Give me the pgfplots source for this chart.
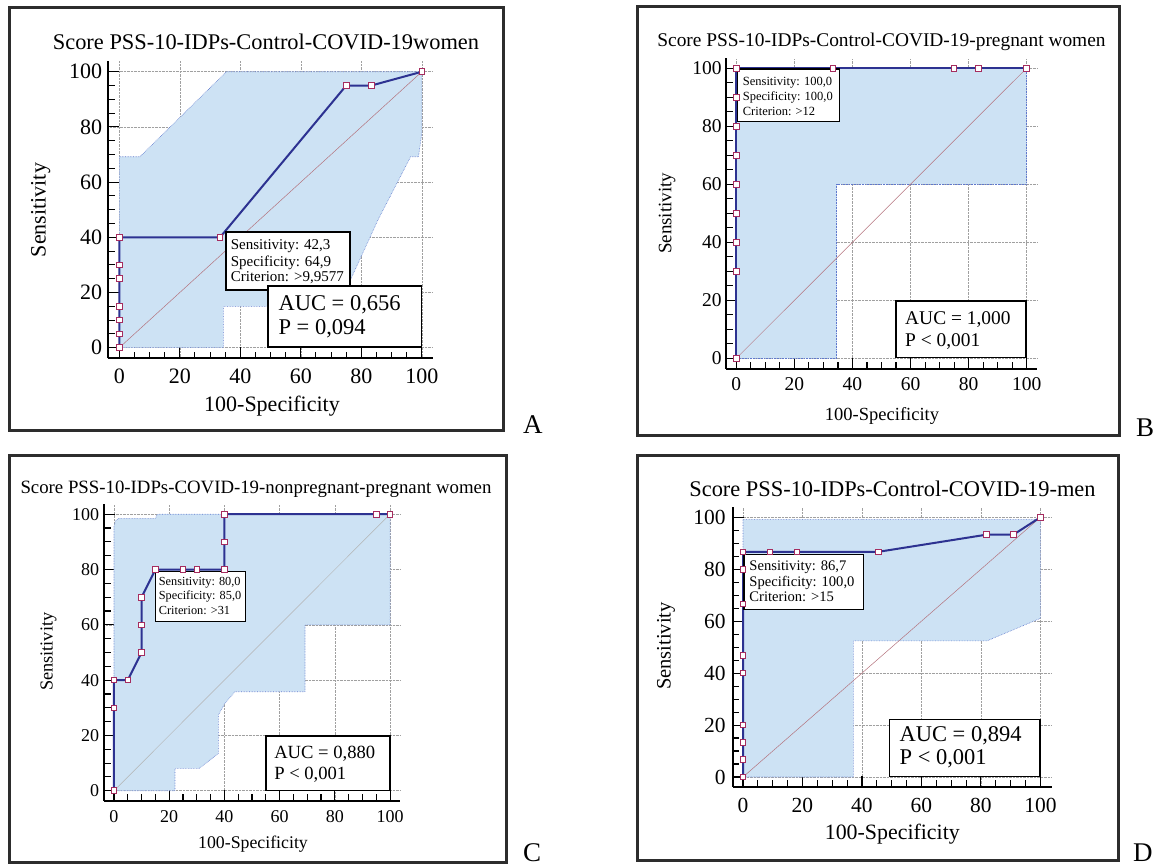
\documentclass[border=0pt]{standalone}
\usepackage{pgfplots}
\pgfplotsset{compat=1.18}
\usepackage{fontspec}
\setmainfont{Liberation Serif}
\newcommand{\fs}[1]{\fontsize{#1}{#1}\selectfont}
\definecolor{cifill}{RGB}{205,226,244}
\definecolor{cidraw}{RGB}{95,120,205}
\definecolor{roc}{RGB}{45,50,145}
\definecolor{markc}{RGB}{165,45,95}
\definecolor{diagc}{RGB}{180,115,125}
\definecolor{gridc}{RGB}{160,160,160}
\definecolor{framec}{RGB}{45,45,45}
\tikzset{boxstyle/.style={line width=1.4pt, fill=white, draw=black}}
\pgfplotsset{rocax/.style={scale only axis, anchor=south west,
  axis x line=bottom, axis y line=left,
  axis line style={-, line width=2pt, black},
  xtick={0,20,...,100}, ytick={0,20,...,100},
  minor x tick num=3, minor y tick num=3,
  tick align=inside, major tick length=11pt, minor tick length=6.5pt,
  tick style={black, line width=1.1pt},
  grid=major, major grid style={gridc, densely dotted, line width=0.6pt},
  /pgf/number format/assume math mode=true, clip=false,
  xticklabel={\pgfmathprintnumber{\tick}},
  yticklabel={\pgfmathprintnumber{\tick}},
  xticklabel style={inner sep=0pt, anchor=north},
  yticklabel style={inner sep=0pt, anchor=east}},
  cistyle/.style={fill=cifill, draw=cidraw, densely dotted, line width=0.6pt},
  diagstyle/.style={diagc, line width=0.5pt},
  rocstyle/.style={roc, line width=2pt, mark=square*, mark size=2.8pt,
  mark options={solid, fill=white, draw=markc, line width=0.9pt}}}
\begin{document}
\begin{tikzpicture}[x=1pt,y=1pt]
\useasboundingbox (0,0) rectangle (1156,866);
% frames
\draw[framec, line width=3pt] (9,435) rectangle (503,858);
\draw[framec, line width=3pt] (637,430) rectangle (1119,859);
\draw[framec, line width=3pt] (9,3) rectangle (506,410);
\draw[framec, line width=3pt] (637,5) rectangle (1118,410);
\node[anchor=base west, inner sep=0pt, font=\fs{27}] at (523,432.7) {A};
\node[anchor=base west, inner sep=0pt, font=\fs{27}] at (1136,429) {B};
\node[anchor=base west, inner sep=0pt, font=\fs{27}] at (523,4) {C};
\node[anchor=base west, inner sep=0pt, font=\fs{27}] at (1133,4) {D};

% ---------------- Panel A
\node[anchor=base, inner sep=0pt, font=\fs{22.4}] at (266,816) {Score PSS-10-IDPs-Control-COVID-19women};
\node[rotate=90, anchor=base, inner sep=0pt, font=\fs{22}] at (45.7,656) {Sensitivity};
\node[anchor=base, inner sep=0pt, font=\fs{22}] at (272,454) {100-Specificity};
\begin{axis}[rocax, at={(108.3pt,507.7pt)}, width=324.7pt, height=297.3pt,
  xmin=-3.64, xmax=103.7, ymin=-3.84, ymax=103.9,
  tick label style={font=\fs{22}},
  xticklabel style={yshift=-10pt}, yticklabel style={xshift=-6pt}]
\addplot[cistyle] coordinates {(0,0) (0,69.2) (6.8,69.2) (35.4,100) (100,100) (100,77.7) (98.9,69.2) (96.3,69.2) (85.5,46.3) (76.8,25.5) (72.2,15) (34.4,15) (34.4,0)} -- cycle;
\addplot[diagstyle] coordinates {(0,0) (100,100)};
\addplot[rocstyle] coordinates {(0,0) (0,5) (0,10) (0,15) (0,25) (0,30) (0,40) (33.3,40) (75,95) (83.3,95) (100,100)};
\draw[boxstyle] (axis cs:35.3,20.9) rectangle (axis cs:76.2,41.9);
\node[anchor=base west, inner sep=0pt, font=\fs{15}] at (axis cs:36.8,35.65) {Sensitivity: 42,3};
\node[anchor=base west, inner sep=0pt, font=\fs{15}] at (axis cs:36.8,29.6) {Specificity: 64,9};
\node[anchor=base west, inner sep=0pt, font=\fs{15}] at (axis cs:36.8,23.9) {Criterion: >9,9577};
\draw[boxstyle] (axis cs:49.2,0.25) rectangle (axis cs:99.8,22.4);
\node[anchor=base west, inner sep=0pt, font=\fs{22.5}] at (axis cs:52.6,13.4) {AUC = 0,656};
\node[anchor=base west, inner sep=0pt, font=\fs{22.5}] at (axis cs:52.6,4.86) {P = 0,094};
\end{axis}

% ---------------- Panel B
\node[anchor=base, inner sep=0pt, font=\fs{19.4}] at (881.5,819.3) {Score PSS-10-IDPs-Control-COVID-19-pregnant women};
\node[rotate=90, anchor=base, inner sep=0pt, font=\fs{19}] at (671.3,652.7) {Sensitivity};
\node[anchor=base, inner sep=0pt, font=\fs{18.5}] at (882,445) {100-Specificity};
\begin{axis}[rocax, at={(726pt,497pt)}, width=311.3pt, height=310.7pt,
  xmin=-3.55, xmax=103.65, ymin=-3.69, ymax=103.4,
  tick label style={font=\fs{19.5}},
  xticklabel style={yshift=-8.5pt}, yticklabel style={xshift=-4.3pt}]
\addplot[cistyle] coordinates {(0,0) (0,100) (100,100) (100,60) (34.6,60) (34.6,0)} -- cycle;
\addplot[diagstyle] coordinates {(0,0) (100,100)};
\addplot[rocstyle] coordinates {(0,0) (0,30) (0,40) (0,50) (0,60) (0,70) (0,80) (0,90) (0,100) (33.3,100) (75,100) (83.3,100) (100,100)};
\draw[boxstyle] (axis cs:0.5,81.6) rectangle (axis cs:35.5,99.7);
\node[anchor=base west, inner sep=0pt, font=\fs{12.5}] at (axis cs:2.2,93.9) {Sensitivity: 100,0};
\node[anchor=base west, inner sep=0pt, font=\fs{12.5}] at (axis cs:2.2,88.7) {Specificity: 100,0};
\node[anchor=base west, inner sep=0pt, font=\fs{12.5}] at (axis cs:2.2,83.6) {Criterion: >12};
\draw[boxstyle] (axis cs:55,0.2) rectangle (axis cs:99.8,19.8);
\node[anchor=base west, inner sep=0pt, font=\fs{19.4}] at (axis cs:58.1,11.7) {AUC = 1,000};
\node[anchor=base west, inner sep=0pt, font=\fs{19.4}] at (axis cs:58.1,4.0) {P < 0,001};
\end{axis}

% ---------------- Panel C
\node[anchor=base, inner sep=0pt, font=\fs{18.8}] at (256,372) {Score PSS-10-IDPs-COVID-19-nonpregnant-pregnant women};
\node[rotate=90, anchor=base, inner sep=0pt, font=\fs{18.3}] at (52.5,214.3) {Sensitivity};
\node[anchor=base, inner sep=0pt, font=\fs{17.8}] at (253,17.7) {100-Specificity};
\begin{axis}[rocax, at={(104.3pt,65.3pt)}, width=295.7pt, height=296.7pt,
  xmin=-3.5, xmax=103.6, ymin=-3.6, ymax=103.7,
  tick label style={font=\fs{18}},
  xticklabel style={yshift=-9.3pt}, yticklabel style={xshift=-5pt}]
\addplot[cistyle] coordinates {(0,0) (0,80) (0,95.6) (0.5,97.5) (1.6,98.5) (15,98.5) (15.5,99.5) (16,100) (100,100) (100,60) (69.2,60) (69.2,35.8) (43.8,35.8) (40.2,31.6) (37.8,27.4) (37.8,13.5) (30.9,8.1) (22.1,8.1) (22.1,0)} -- cycle;
\addplot[diagstyle, gridc!80] coordinates {(0,0) (100,100)};
\addplot[rocstyle] coordinates {(0,0) (0,30) (0,40) (5,40) (10,50) (10,60) (10,70) (15,80) (25,80) (30,80) (40,80) (40,90) (40,100) (95,100) (100,100)};
\draw[boxstyle] (axis cs:15,61.2) rectangle (axis cs:47.7,79.3);
\node[anchor=base west, inner sep=0pt, font=\fs{12.3}] at (axis cs:16.2,74.1) {Sensitivity: 80,0};
\node[anchor=base west, inner sep=0pt, font=\fs{12.3}] at (axis cs:16.2,69) {Specificity: 85,0};
\node[anchor=base west, inner sep=0pt, font=\fs{12.3}] at (axis cs:16.2,63.6) {Criterion: >31};
\draw[boxstyle] (axis cs:55.1,0) rectangle (axis cs:100,19.8);
\node[anchor=base west, inner sep=0pt, font=\fs{18.6}] at (axis cs:58,11.7) {AUC = 0,880};
\node[anchor=base west, inner sep=0pt, font=\fs{18.6}] at (axis cs:58,4.1) {P < 0,001};
\end{axis}

% ---------------- Panel D
\node[anchor=base, inner sep=0pt, font=\fs{22.4}] at (892.5,369.3) {Score PSS-10-IDPs-Control-COVID-19-men};
\node[rotate=90, anchor=base, inner sep=0pt, font=\fs{20.5}] at (670.7,220) {Sensitivity};
\node[anchor=base, inner sep=0pt, font=\fs{21.9}] at (892.3,26.7) {100-Specificity};
\begin{axis}[rocax, at={(732.7pt,79.3pt)}, width=319pt, height=279.4pt,
  xmin=-3.46, xmax=103.8, ymin=-3.73, ymax=103.85,
  tick label style={font=\fs{21.5}},
  xticklabel style={yshift=-11pt}, yticklabel style={xshift=-7pt}]
\addplot[cistyle] coordinates {(0,0) (0,99.2) (100,99.2) (100,61.1) (82,52.4) (37.1,52.4) (37.1,0)} -- cycle;
\addplot[diagstyle] coordinates {(0,0) (100,100)};
\addplot[rocstyle] coordinates {(0,0) (0,6.7) (0,13.3) (0,20) (0,40) (0,46.7) (0,66.7) (0,80) (0,86.7) (9.1,86.7) (18.2,86.7) (45.5,86.7) (81.8,93.3) (90.9,93.3) (100,100)};
\draw[boxstyle] (axis cs:0.4,64.6) rectangle (axis cs:40.5,85.7);
\node[anchor=base west, inner sep=0pt, font=\fs{14.6}] at (axis cs:2.1,79.4) {Sensitivity: 86,7};
\node[anchor=base west, inner sep=0pt, font=\fs{14.6}] at (axis cs:2.1,73.3) {Specificity: 100,0};
\node[anchor=base west, inner sep=0pt, font=\fs{14.6}] at (axis cs:2.1,67.4) {Criterion: >15};
\draw[boxstyle] (axis cs:49.2,0.1) rectangle (axis cs:99.9,22.2);
\node[anchor=base west, inner sep=0pt, font=\fs{22.5}] at (axis cs:52.6,13.6) {AUC = 0,894};
\node[anchor=base west, inner sep=0pt, font=\fs{22.5}] at (axis cs:52.6,4.9) {P < 0,001};
\end{axis}
\end{tikzpicture}
\end{document}
